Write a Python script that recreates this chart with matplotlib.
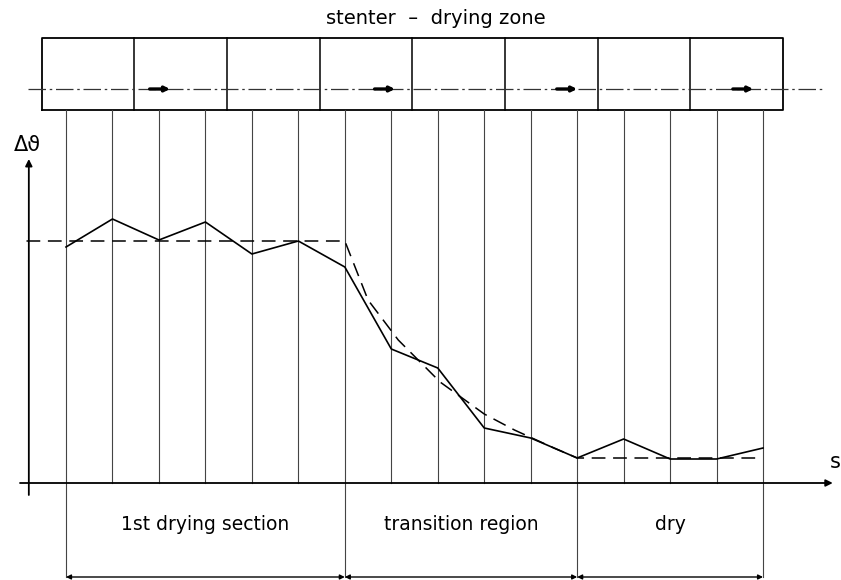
import numpy as np
import matplotlib
matplotlib.use("Agg")
import matplotlib.pyplot as plt

# measuring stations along the stenter (index) and temperature difference
stations = np.arange(16)
delta_theta = [23.6, 26.4, 24.3, 26.1, 22.9, 24.2, 21.6, 13.4,
               11.5, 5.5, 4.5, 2.5, 4.4, 2.4, 2.4, 3.5]

# idealised (dashed) course
trend_s = [-0.85, 6.0, 6.5, 7.15, 8.05, 9.0, 9.65, 10.5, 11.0, 14.95]
trend_v = [24.2, 24.2, 18.3, 14.3, 10.1, 6.9, 5.3, 3.5, 2.5, 2.5]

zone_names = ["1st drying section", "transition region", "dry"]
zone_bounds = [0, 6, 11, 15]

n_fields = 8
title = "stenter  \u2013  drying zone"

# layout (in data units of the full-figure axes)
BOX_L, BOX_R = -0.52, 15.43
BOX_B, BOX_T = 37.3, 44.5
CENTER = 39.4
FLOW_ARROWS = [2.02, 6.86, 10.78, 14.57]
YAX_X = -0.8
DIM_Y = -9.4
TXT_Y = -4.2

fig = plt.figure(figsize=(8.41, 5.80), dpi=100)
ax = fig.add_axes([0, 0, 1, 1])
ax.set_xlim(-66 / 46.47, 775 / 46.47)
ax.set_ylim(-9.7, 48.3)
ax.axis("off")

# --- stenter box ------------------------------------------------------------
edges = np.linspace(BOX_L, BOX_R, n_fields + 1)
ax.plot([BOX_L, BOX_R, BOX_R, BOX_L, BOX_L], [BOX_B, BOX_B, BOX_T, BOX_T, BOX_B],
        color="k", lw=1.3)
for e in edges[1:-1]:
    ax.plot([e, e], [BOX_B, BOX_T], color="k", lw=1.1)
ax.plot([-0.82, 16.29], [CENTER, CENTER], color="#333", lw=0.9,
        dashes=(14, 3, 2, 3))
for xa in FLOW_ARROWS:
    ax.annotate("", xy=(xa + 0.22, CENTER), xytext=(xa - 0.22, CENTER),
                arrowprops=dict(arrowstyle="-|>", color="k", lw=2.4,
                                mutation_scale=7, shrinkA=0, shrinkB=0))
ax.text(7.95, 46.5, title, ha="center", va="center", fontsize=14,
        family="DejaVu Sans")

# --- station lines ----------------------------------------------------------
for s in stations:
    bottom = DIM_Y if s in zone_bounds else 0
    ax.plot([s, s], [bottom, BOX_B], color="#444", lw=0.8)

# --- axes -------------------------------------------------------------------
ax.annotate("", xy=(16.5, 0), xytext=(-0.99, 0),
            arrowprops=dict(arrowstyle="-|>", color="k", lw=1.3,
                            mutation_scale=10, shrinkA=0, shrinkB=0))
ax.annotate("", xy=(YAX_X, 32.4), xytext=(YAX_X, -1.2),
            arrowprops=dict(arrowstyle="-|>", color="k", lw=1.3,
                            mutation_scale=10, shrinkA=0, shrinkB=0))
ax.text(-0.84, 33.8, "\u0394\u03d1", ha="center", va="center", fontsize=15)
ax.text(16.66, 2.1, "s", ha="right", va="center", fontsize=15)

# --- curves -----------------------------------------------------------------
ax.plot(trend_s, trend_v, color="k", lw=1.1, dashes=(9, 5))
ax.plot(stations, delta_theta, color="k", lw=1.2)

# --- zones ------------------------------------------------------------------
for name, a, b in zip(zone_names, zone_bounds[:-1], zone_bounds[1:]):
    ax.text((a + b) / 2, TXT_Y, name, ha="center", va="center", fontsize=13.5)
    ax.annotate("", xy=(b, DIM_Y), xytext=(a, DIM_Y),
                arrowprops=dict(arrowstyle="<|-|>", color="k", lw=1.0,
                                mutation_scale=7, shrinkA=0, shrinkB=0))

fig.savefig("out.png", dpi=100)
